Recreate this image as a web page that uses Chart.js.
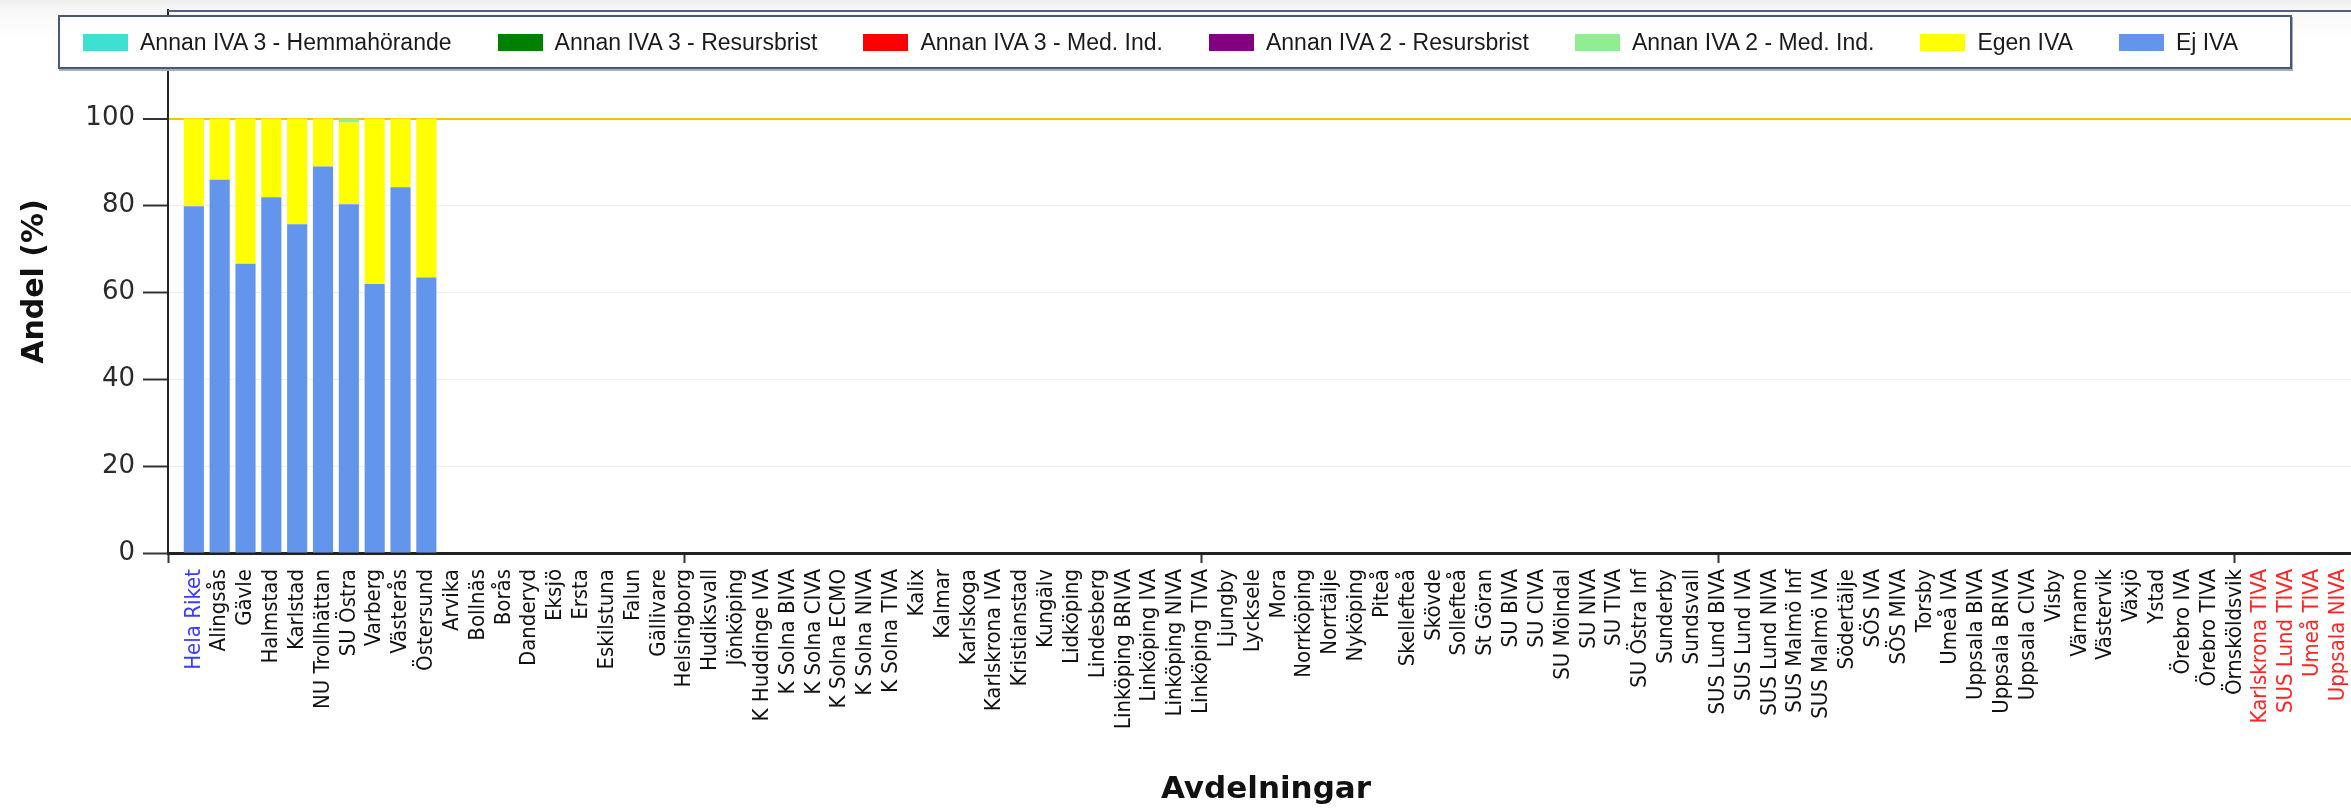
<!DOCTYPE html>
<html lang="sv">
<head>
<meta charset="utf-8">
<title>Andel per avdelning</title>
<script src="https://cdn.jsdelivr.net/npm/chart.js@4.4.1/dist/chart.umd.min.js"></script>
<style>
    html, body { margin: 0; padding: 0; overflow: hidden; }
    body { background: linear-gradient(#eeeeee 0px, #f8f8f8 10px, #ffffff 40px); }
    #wrap { position: relative; width: 2366px; height: 809px; }
    #chart { position: absolute; left: 0; top: 0; }
    #legend {
        position: absolute; left: 58px; top: 15px; width: 2234px; height: 54px;
        box-sizing: border-box; border: 2px solid #4a5878; background: #fff;
        box-shadow: 1px 2px 0 #a7afbf;
        display: flex; align-items: center; padding-left: 23px; gap: 46px;
        font: 23px 'Liberation Sans', Arial, sans-serif; color: #1a1a1a;
    }
    #legend .item { display: flex; align-items: center; white-space: nowrap; }
    #legend .sw { width: 45px; height: 17px; margin-right: 12px; }
</style>
</head>
<body>
<div id="wrap">
    <canvas id="chart" width="2366" height="809"></canvas>
    <div id="legend"></div>
</div>
<script>
// avdelningar (x-axeln)
const categories = [
    'Hela Riket', 'Alingsås', 'Gävle', 'Halmstad', 'Karlstad', 'NU Trollhättan', 'SU Östra',
    'Varberg', 'Västerås', 'Östersund', 'Arvika', 'Bollnäs', 'Borås', 'Danderyd', 'Eksjö',
    'Ersta', 'Eskilstuna', 'Falun', 'Gällivare', 'Helsingborg', 'Hudiksvall', 'Jönköping',
    'K Huddinge IVA', 'K Solna BIVA', 'K Solna CIVA', 'K Solna ECMO', 'K Solna NIVA',
    'K Solna TIVA', 'Kalix', 'Kalmar', 'Karlskoga', 'Karlskrona IVA', 'Kristianstad',
    'Kungälv', 'Lidköping', 'Lindesberg', 'Linköping BRIVA', 'Linköping IVA',
    'Linköping NIVA', 'Linköping TIVA', 'Ljungby', 'Lycksele', 'Mora', 'Norrköping',
    'Norrtälje', 'Nyköping', 'Piteå', 'Skellefteå', 'Skövde', 'Sollefteå', 'St Göran',
    'SU BIVA', 'SU CIVA', 'SU Mölndal', 'SU NIVA', 'SU TIVA', 'SU Östra Inf', 'Sunderby',
    'Sundsvall', 'SUS Lund BIVA', 'SUS Lund IVA', 'SUS Lund NIVA', 'SUS Malmö Inf',
    'SUS Malmö IVA', 'Södertälje', 'SÖS IVA', 'SÖS MIVA', 'Torsby', 'Umeå IVA',
    'Uppsala BIVA', 'Uppsala BRIVA', 'Uppsala CIVA', 'Visby', 'Värnamo', 'Västervik',
    'Växjö', 'Ystad', 'Örebro IVA', 'Örebro TIVA', 'Örnsköldsvik',
    'Karlskrona TIVA', 'SUS Lund TIVA', 'Umeå TIVA', 'Uppsala NIVA'
];
const blueLabels = ['Hela Riket'];
const redLabels = ['Karlskrona TIVA', 'SUS Lund TIVA', 'Umeå TIVA', 'Uppsala NIVA'];

// andel (%) per serie, i samma ordning som categories
const ejIva             = [79.8, 85.9, 66.6, 81.9, 75.7, 89.0, 80.3, 61.9, 84.2, 63.4];
const egenIva           = [20.2, 14.1, 33.4, 18.1, 24.3, 11.0, 18.8, 38.1, 15.8, 36.6];
const annan2MedInd      = [0, 0, 0, 0, 0, 0, 0.9, 0, 0, 0];
const annan2Resursbrist = [0, 0, 0, 0, 0, 0, 0, 0, 0, 0];
const annan3MedInd      = [0, 0, 0, 0, 0, 0, 0, 0, 0, 0];
const annan3Resursbrist = [0, 0, 0, 0, 0, 0, 0, 0, 0, 0];
const annan3Hemma       = [0, 0, 0, 0, 0, 0, 0, 0, 0, 0];

const yTicks = [0, 20, 40, 60, 80, 100];
const yMax = 125;
const xTickEvery = 20;

const toPoints = (values) => values.map((v, i) => ({ x: i + 1, y: v }));

const datasets = [
    { label: 'Ej IVA', data: toPoints(ejIva), backgroundColor: '#6495ED' },
    { label: 'Egen IVA', data: toPoints(egenIva), backgroundColor: '#FFFF00' },
    { label: 'Annan IVA 2 - Med. Ind.', data: toPoints(annan2MedInd), backgroundColor: '#90EE90' },
    { label: 'Annan IVA 2 - Resursbrist', data: toPoints(annan2Resursbrist), backgroundColor: '#800080' },
    { label: 'Annan IVA 3 - Med. Ind.', data: toPoints(annan3MedInd), backgroundColor: '#FF0000' },
    { label: 'Annan IVA 3 - Resursbrist', data: toPoints(annan3Resursbrist), backgroundColor: '#008000' },
    { label: 'Annan IVA 3 - Hemmahörande', data: toPoints(annan3Hemma), backgroundColor: '#40E0D0' },
];

// ram längs diagramytans överkant
const topFrame = {
    id: 'topFrame',
    afterDraw(chart) {
        const { ctx, chartArea } = chart;
        ctx.save();
        ctx.strokeStyle = '#56627c';
        ctx.lineWidth = 2;
        ctx.beginPath();
        ctx.moveTo(chartArea.left, chartArea.top + 1);
        ctx.lineTo(chartArea.right, chartArea.top + 1);
        ctx.stroke();
        ctx.restore();
    }
};

const chart = new Chart(document.getElementById('chart'), {
    type: 'bar',
    data: { datasets: datasets },
    options: {
        responsive: false,
        animation: false,
        barPercentage: 0.78,
        categoryPercentage: 1,
        layout: { padding: { top: 10, left: 0, right: 2, bottom: 0 } },
        plugins: {
            legend: { display: false },
            tooltip: { enabled: false },
        },
        scales: {
            x: {
                type: 'linear',
                stacked: true,
                offset: false,
                min: 0,
                max: categories.length + 1,
                afterBuildTicks: (s) => {
                    s.ticks = Array.from({ length: categories.length + 2 }, (_, i) => ({ value: i }));
                },
                afterFit: (s) => {
                    s.height = 256;
                    s.paddingLeft = 0;
                    s.paddingRight = 0;
                },
                grid: {
                    offset: false,
                    drawOnChartArea: false,
                    tickLength: 10,
                    tickWidth: 2,
                    color: (ctx) => (ctx.tick && ctx.tick.value % xTickEvery === 0 ? '#333' : 'rgba(0,0,0,0)'),
                },
                border: { color: '#222', width: 3 },
                ticks: {
                    autoSkip: false,
                    maxRotation: 90,
                    minRotation: 90,
                    padding: 6,
                    font: { family: "'DejaVu Sans Condensed', 'DejaVu Sans'", size: 22 },
                    color: (ctx) => {
                        const name = categories[ctx.tick.value - 1];
                        if (blueLabels.includes(name)) return '#3b3bff';
                        if (redLabels.includes(name)) return '#ff2424';
                        return '#111';
                    },
                    callback: (value) => categories[value - 1] || '',
                },
                title: {
                    display: true,
                    text: 'Avdelningar',
                    color: '#111',
                    font: { family: "'DejaVu Sans'", size: 31, weight: 'bold' },
                    padding: 0,
                },
            },
            y: {
                stacked: true,
                min: 0,
                max: yMax,
                afterBuildTicks: (s) => {
                    s.ticks = yTicks.map((v) => ({ value: v }));
                },
                afterFit: (s) => {
                    s.width = 168;
                    s.paddingTop = 0;
                    s.paddingBottom = 0;
                },
                grid: {
                    tickLength: 25,
                    tickColor: '#333',
                    tickWidth: 2,
                    color: (ctx) => {
                        const v = ctx.tick ? ctx.tick.value : 0;
                        if (v === 100) return '#f2c400';
                        if (v === 0) return 'rgba(0,0,0,0)';
                        return '#eeeeee';
                    },
                    lineWidth: (ctx) => (ctx.tick && ctx.tick.value === 100 ? 2 : 1),
                },
                border: { color: '#222', width: 2 },
                ticks: {
                    padding: 8,
                    color: '#2a2a2a',
                    font: { family: "'DejaVu Sans'", size: 26 },
                },
                title: {
                    display: true,
                    text: 'Andel (%)',
                    color: '#111',
                    font: { family: "'DejaVu Sans'", size: 30, weight: 'bold' },
                    padding: { top: 17, bottom: 0 },
                },
            },
        },
    },
    plugins: [topFrame],
});

// legenden: översta serien först
const legendEl = document.getElementById('legend');
chart.data.datasets.slice().reverse().forEach((ds) => {
    const item = document.createElement('div');
    item.className = 'item';
    item.innerHTML = `<span class="sw" style="background:${ds.backgroundColor}"></span>${ds.label}`;
    legendEl.appendChild(item);
});
</script>
</body>
</html>
